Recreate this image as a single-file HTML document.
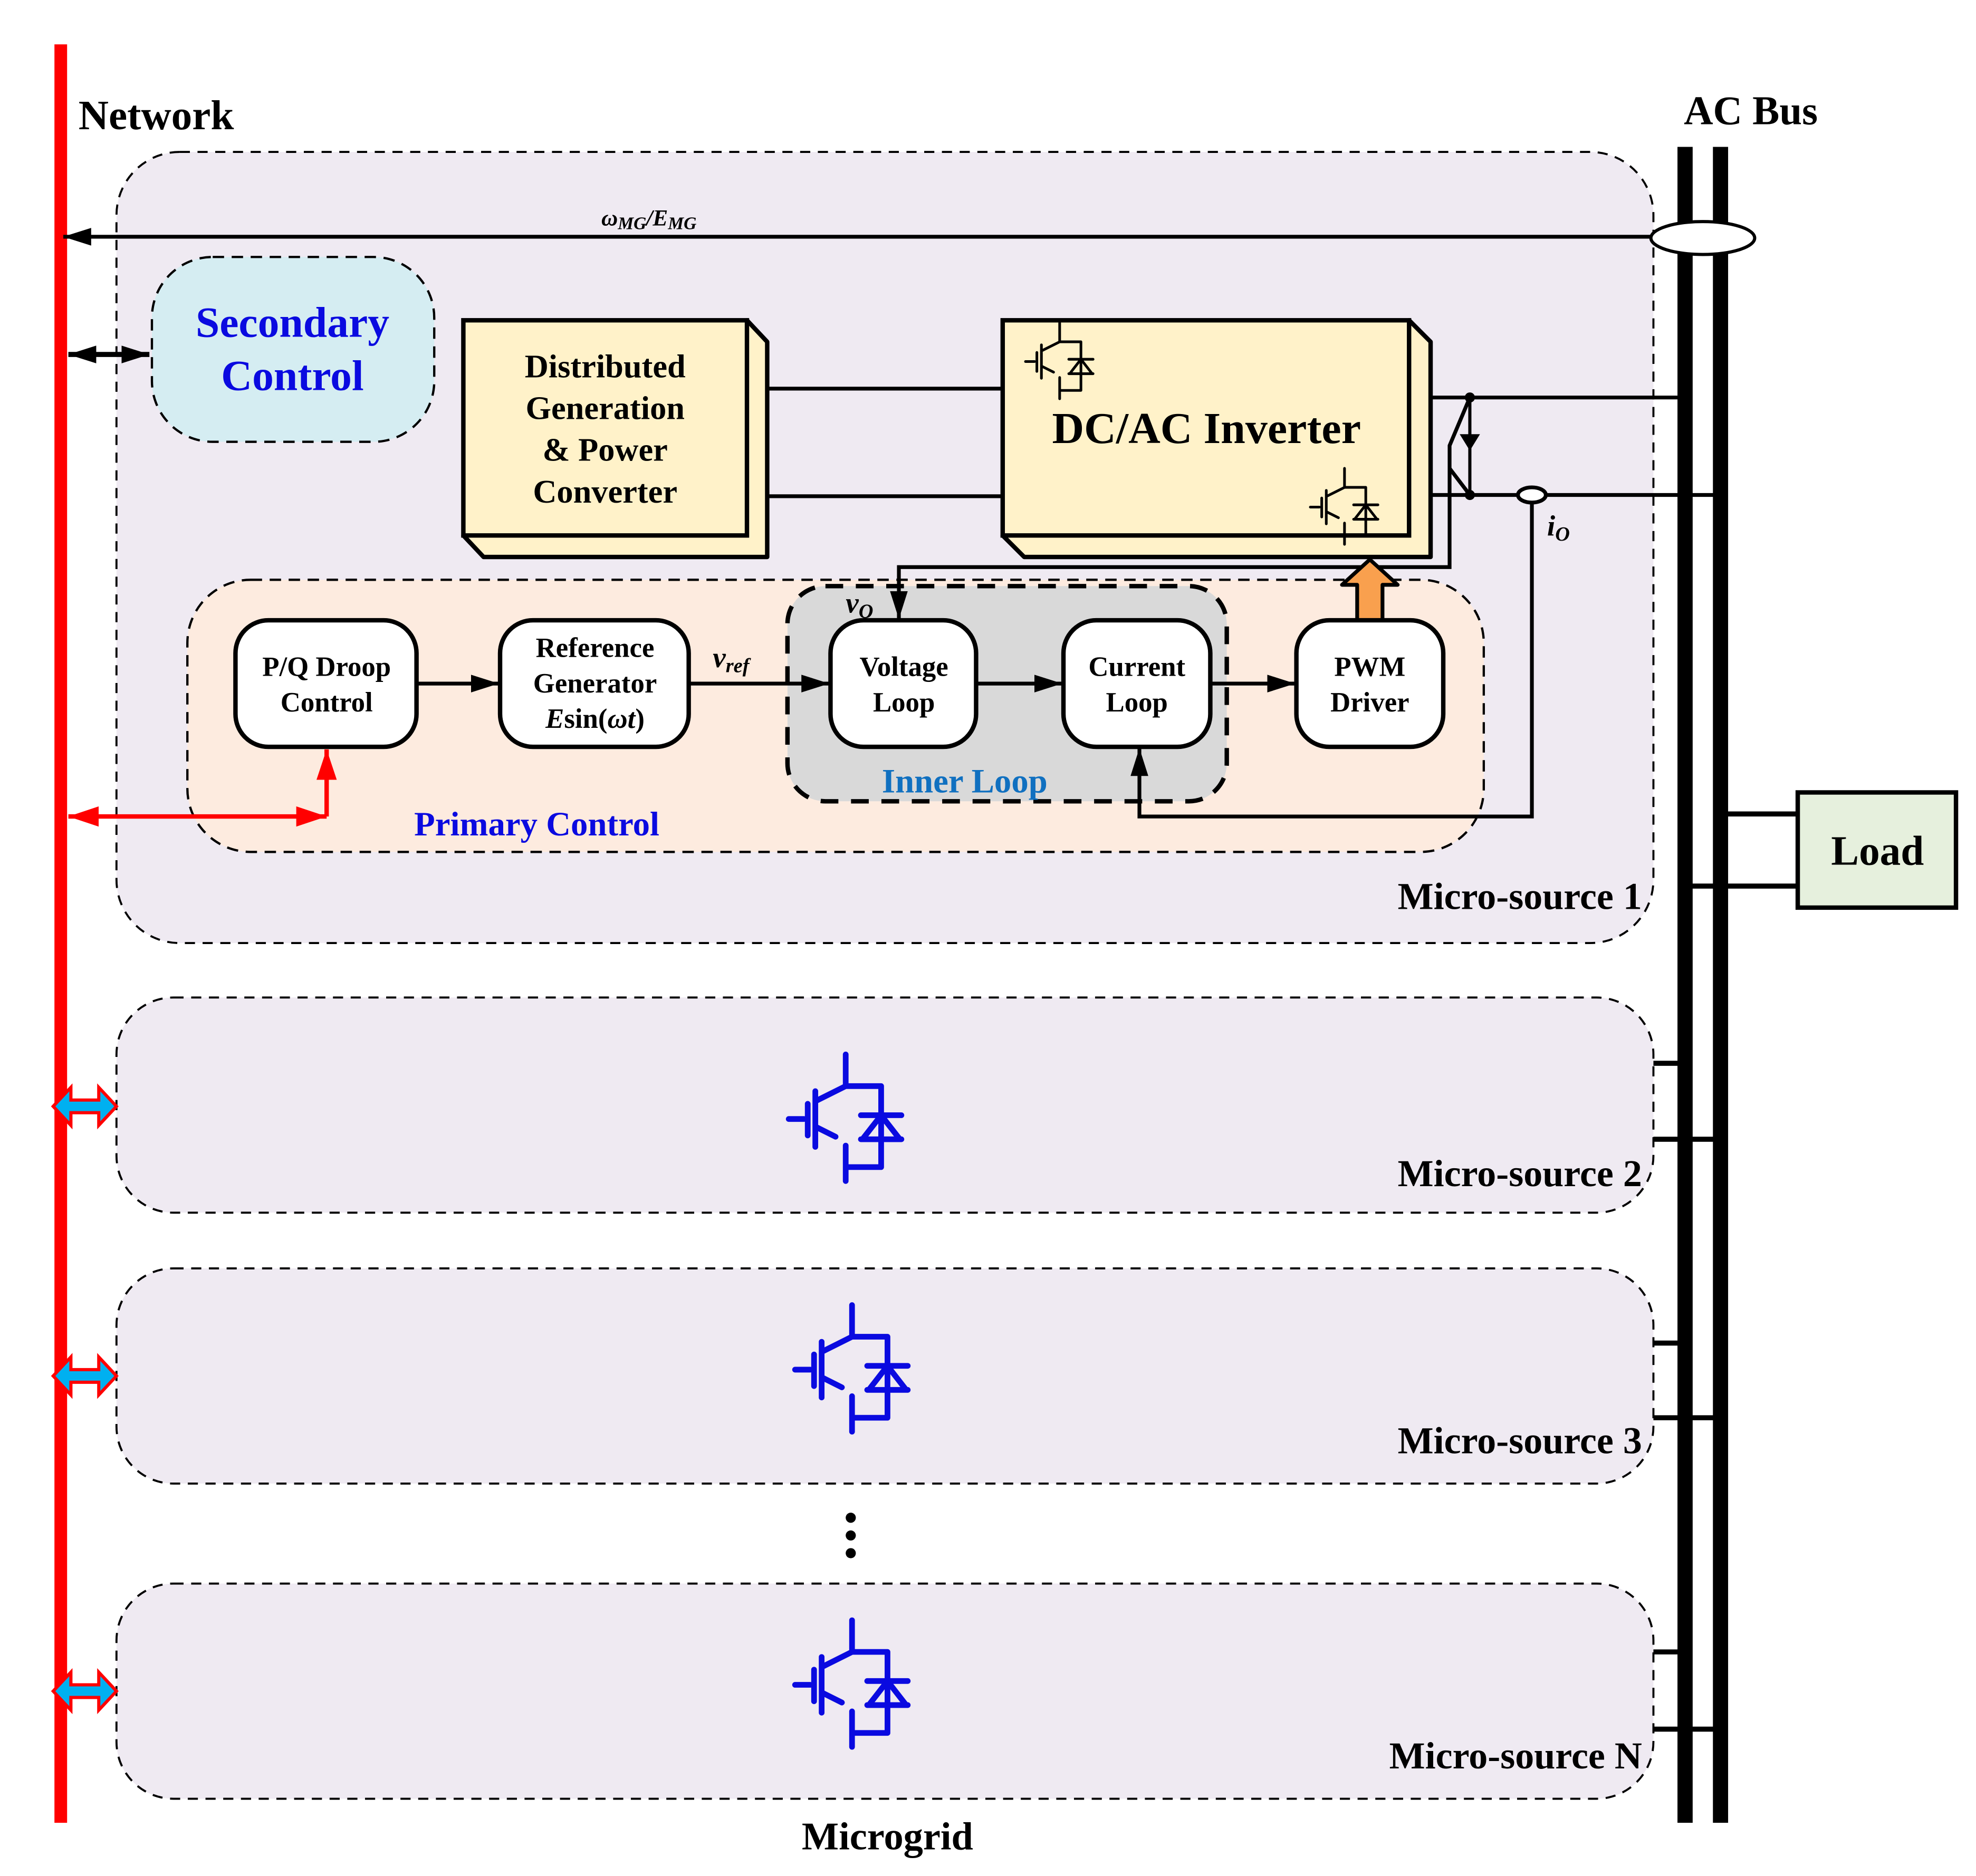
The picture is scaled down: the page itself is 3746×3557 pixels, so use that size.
<!DOCTYPE html>
<html><head><meta charset="utf-8">
<style>
html,body{margin:0;padding:0;background:#fff;}
svg{display:block;}
text{font-family:"Liberation Serif",serif;font-weight:bold;}
</style></head>
<body>
<svg width="3746" height="3557" viewBox="0 0 1560.8 1482" xmlns="http://www.w3.org/2000/svg">
<defs>
<g id="igbt" fill="none" stroke-linecap="round" stroke-linejoin="round">
  <path d="M-45,51 H-33 M-30,39 V64 M-24,29 V73 M0,0 V25 M-24,37 L0,25 H28 V89 H0 M-24,57 L-8,65 M0,72 V100 M12,48 H44 M12,67 H44 M28,48 L14,66 M28,48 L42,66"/>
  <path d="M0,72 L-16,72 L-9,60 Z" stroke="none"/>
</g>
<marker id="ah" viewBox="0 0 22 14" refX="22" refY="7" markerWidth="22" markerHeight="14" markerUnits="userSpaceOnUse" orient="auto-start-reverse">
  <path d="M0,0 L22,7 L0,14 Z" fill="#000"/>
</marker>
<marker id="ahr" viewBox="0 0 24 16" refX="24" refY="8" markerWidth="24" markerHeight="16" markerUnits="userSpaceOnUse" orient="auto-start-reverse">
  <path d="M0,0 L24,8 L0,16 Z" fill="#ff0000"/>
</marker>
</defs>

<line x1="48" y1="35" x2="48" y2="1440" stroke="#ff0000" stroke-width="10"/>
<text x="62" y="102" font-size="33">Network</text>
<text x="1330" y="98" font-size="32">AC Bus</text>

<rect x="92" y="120" width="1214" height="625" rx="50" fill="#efeaf2" stroke="#000" stroke-width="1.6" stroke-dasharray="8,6"/>
<rect x="92" y="788" width="1214" height="170" rx="45" fill="#efeaf2" stroke="#000" stroke-width="1.6" stroke-dasharray="8,6"/>
<rect x="92" y="1002" width="1214" height="170" rx="45" fill="#efeaf2" stroke="#000" stroke-width="1.6" stroke-dasharray="8,6"/>
<rect x="92" y="1251" width="1214" height="170" rx="45" fill="#efeaf2" stroke="#000" stroke-width="1.6" stroke-dasharray="8,6"/>

<line x1="1331" y1="116" x2="1331" y2="1440" stroke="#000" stroke-width="12"/>
<line x1="1359" y1="116" x2="1359" y2="1440" stroke="#000" stroke-width="12"/>

<line x1="1306" y1="187" x2="50" y2="187" stroke="#000" stroke-width="3" marker-end="url(#ah)"/>
<text x="475" y="178" font-size="18" font-style="italic">ω<tspan font-size="14" dy="3">MG</tspan><tspan dy="-3">/E</tspan><tspan font-size="14" dy="3">MG</tspan></text>
<ellipse cx="1345" cy="188" rx="41" ry="13" fill="#fff" stroke="#000" stroke-width="2.5"/>

<rect x="120" y="203" width="223" height="146" rx="48" fill="#d5edf2" stroke="#000" stroke-width="1.8" stroke-dasharray="9,6"/>
<text x="231" y="266" font-size="34" fill="#0a0ae0" text-anchor="middle">Secondary</text>
<text x="231" y="308" font-size="34" fill="#0a0ae0" text-anchor="middle">Control</text>
<line x1="54" y1="280" x2="118" y2="280" stroke="#000" stroke-width="4" marker-start="url(#ah)" marker-end="url(#ah)"/>

<path d="M590,253 L606,270 L606,440 L382,440 L366,423 Z" fill="#fff2c9" stroke="#000" stroke-width="3.5" stroke-linejoin="round"/>
<rect x="366" y="253" width="224" height="170" fill="#fff2c9" stroke="#000" stroke-width="3.5"/>
<g font-size="26" text-anchor="middle">
<text x="478" y="298">Distributed</text>
<text x="478" y="331">Generation</text>
<text x="478" y="364">&amp; Power</text>
<text x="478" y="397">Converter</text>
</g>
<line x1="606" y1="307" x2="792" y2="307" stroke="#000" stroke-width="3"/>
<line x1="606" y1="392" x2="792" y2="392" stroke="#000" stroke-width="3"/>

<path d="M1113,253 L1130,270 L1130,440 L809,440 L792,423 Z" fill="#fff2c9" stroke="#000" stroke-width="3.5" stroke-linejoin="round"/>
<rect x="792" y="253" width="321" height="170" fill="#fff2c9" stroke="#000" stroke-width="3.5"/>
<text x="953" y="350" font-size="35" text-anchor="middle">DC/AC Inverter</text>
<use href="#igbt" transform="translate(837,255) scale(0.6)" stroke="#000" fill="#000" stroke-width="3.5"/>
<use href="#igbt" transform="translate(1062,370) scale(0.6)" stroke="#000" fill="#000" stroke-width="3.5"/>

<line x1="1130" y1="314" x2="1331" y2="314" stroke="#000" stroke-width="3"/>
<line x1="1130" y1="391" x2="1359" y2="391" stroke="#000" stroke-width="3"/>
<circle cx="1161" cy="314" r="4" fill="#000"/>
<circle cx="1161" cy="391" r="4" fill="#000"/>
<line x1="1161" y1="314" x2="1161" y2="391" stroke="#000" stroke-width="2.5"/>
<path d="M1153,343 L1169,343 L1161,356 Z" fill="#000"/>
<path d="M1145,370 L1161,391" fill="none" stroke="#000" stroke-width="3"/>
<text x="1222" y="423" font-size="23" font-style="italic" font-weight="normal">i<tspan font-size="16" dy="4">O</tspan></text>

<rect x="148" y="458" width="1024" height="215" rx="50" fill="#fdebdf" stroke="#000" stroke-width="1.8" stroke-dasharray="9,6"/>
<rect x="622" y="463" width="347" height="170" rx="30" fill="#d9d9d9" stroke="#000" stroke-width="3.5" stroke-dasharray="14,10"/>

<path d="M1161,314 L1145,352 L1145,448 L710,448 L710,489" fill="none" stroke="#000" stroke-width="3" marker-end="url(#ah)"/>
<path d="M1210,397 L1210,645 L900,645 L900,591" fill="none" stroke="#000" stroke-width="3" marker-end="url(#ah)"/>
<ellipse cx="1210" cy="391" rx="11" ry="6" fill="#fff" stroke="#000" stroke-width="3"/>

<text x="424" y="660" font-size="27" fill="#0a0ae0" text-anchor="middle">Primary Control</text>
<text x="762" y="626" font-size="27" fill="#1070c0" text-anchor="middle">Inner Loop</text>
<text x="668" y="484" font-size="23" font-style="italic" font-weight="normal">v<tspan font-size="16" dy="4">O</tspan></text>
<text x="563" y="527" font-size="23" font-style="italic" font-weight="normal">v<tspan font-size="16" dy="4">ref</tspan></text>

<path d="M1072,490 L1072,462 L1060,462 L1082,442 L1104,462 L1092,462 L1092,490 Z" fill="#f9a04e" stroke="#000" stroke-width="3" stroke-linejoin="round"/>

<g fill="#fff" stroke="#000" stroke-width="3.5">
<rect x="186" y="490" width="143" height="100" rx="26"/>
<rect x="395" y="490" width="149" height="100" rx="26"/>
<rect x="656" y="490" width="115" height="100" rx="26"/>
<rect x="840" y="490" width="116" height="100" rx="26"/>
<rect x="1024" y="490" width="116" height="100" rx="26"/>
</g>
<g font-size="22" text-anchor="middle">
<text x="258" y="534">P/Q Droop</text><text x="258" y="562">Control</text>
<text x="470" y="519">Reference</text><text x="470" y="547">Generator</text>
<text x="470" y="575"><tspan font-style="italic">E</tspan>sin(<tspan font-style="italic">ωt</tspan>)</text>
<text x="714" y="534">Voltage</text><text x="714" y="562">Loop</text>
<text x="898" y="534">Current</text><text x="898" y="562">Loop</text>
<text x="1082" y="534">PWM</text><text x="1082" y="562">Driver</text>
</g>
<g stroke="#000" stroke-width="3">
<line x1="329" y1="540" x2="394" y2="540" marker-end="url(#ah)"/>
<line x1="544" y1="540" x2="655" y2="540" marker-end="url(#ah)"/>
<line x1="771" y1="540" x2="839" y2="540" marker-end="url(#ah)"/>
<line x1="956" y1="540" x2="1023" y2="540" marker-end="url(#ah)"/>
</g>

<line x1="54" y1="645" x2="258" y2="645" stroke="#ff0000" stroke-width="3.5" marker-start="url(#ahr)" marker-end="url(#ahr)"/>
<line x1="258" y1="645" x2="258" y2="592" stroke="#ff0000" stroke-width="3.5" marker-end="url(#ahr)"/>

<text x="1297" y="718" font-size="30" text-anchor="end">Micro-source 1</text>

<line x1="1359" y1="643" x2="1420" y2="643" stroke="#000" stroke-width="4"/>
<line x1="1331" y1="700" x2="1420" y2="700" stroke="#000" stroke-width="4"/>
<rect x="1420" y="626" width="125" height="91" fill="#e6f0dd" stroke="#000" stroke-width="3.5"/>
<text x="1483" y="683" font-size="33" text-anchor="middle">Load</text>

<g stroke="#000" stroke-width="4">
<line x1="1306" y1="840" x2="1331" y2="840"/><line x1="1306" y1="900" x2="1359" y2="900"/>
<line x1="1306" y1="1061" x2="1331" y2="1061"/><line x1="1306" y1="1120" x2="1359" y2="1120"/>
<line x1="1306" y1="1305" x2="1331" y2="1305"/><line x1="1306" y1="1366" x2="1359" y2="1366"/>
</g>

<use href="#igbt" transform="translate(668,833)" stroke="#0a0ae0" fill="#0a0ae0" stroke-width="4.5"/>
<use href="#igbt" transform="translate(673,1031)" stroke="#0a0ae0" fill="#0a0ae0" stroke-width="4.5"/>
<use href="#igbt" transform="translate(673,1280)" stroke="#0a0ae0" fill="#0a0ae0" stroke-width="4.5"/>

<text x="1297" y="937" font-size="30" text-anchor="end">Micro-source 2</text>
<text x="1297" y="1148" font-size="30" text-anchor="end">Micro-source 3</text>
<text x="1297" y="1397" font-size="30" text-anchor="end">Micro-source N</text>

<circle cx="672" cy="1199" r="4" fill="#000"/>
<circle cx="672" cy="1213" r="4" fill="#000"/>
<circle cx="672" cy="1227" r="4" fill="#000"/>

<g fill="#00b0f0" stroke="#ff0000" stroke-width="2.5" stroke-linejoin="miter">
<path transform="translate(0,874)" d="M42,0 L56,-15 L56,-5 L78,-5 L78,-15 L92,0 L78,15 L78,5 L56,5 L56,15 Z"/>
<path transform="translate(0,1087)" d="M42,0 L56,-15 L56,-5 L78,-5 L78,-15 L92,0 L78,15 L78,5 L56,5 L56,15 Z"/>
<path transform="translate(0,1336)" d="M42,0 L56,-15 L56,-5 L78,-5 L78,-15 L92,0 L78,15 L78,5 L56,5 L56,15 Z"/>
</g>

<text x="701" y="1461" font-size="31" text-anchor="middle">Microgrid</text>
</svg>
</body></html>
